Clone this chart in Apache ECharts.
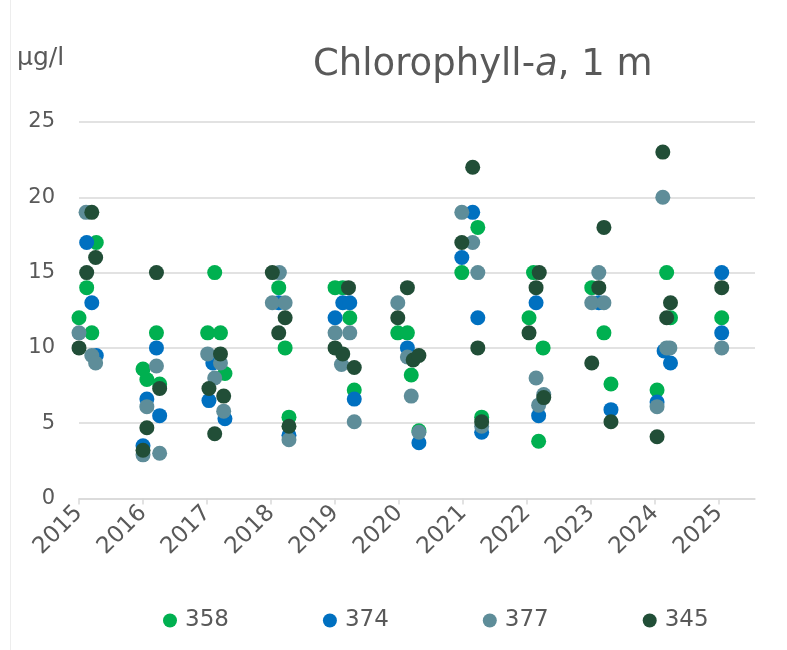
<!DOCTYPE html>
<html>
<head>
<meta charset="utf-8">
<title>Chlorophyll-a, 1 m</title>
<script src="https://cdn.jsdelivr.net/npm/echarts@6/dist/echarts.min.js"></script>
<style>
  html, body { margin: 0; padding: 0; background: #ffffff; }
  #chart { width: 787px; height: 650px; }
</style>
</head>
<body>
<div id="chart"></div>
<script>
// Sampling times as decimal years, with chlorophyll-a (µg/l) at 1 m depth per station
const yearTicks = [2015, 2016, 2017, 2018, 2019, 2020, 2021, 2022, 2023, 2024, 2025];

const dates358 = [2015.00, 2015.12, 2015.20, 2015.27, 2016.00, 2016.06, 2016.21, 2016.26,
  2017.01, 2017.12, 2017.21, 2017.28, 2018.12, 2018.22, 2018.28, 2019.00, 2019.12, 2019.23,
  2019.30, 2019.98, 2020.13, 2020.19, 2020.31, 2020.98, 2021.23, 2021.29, 2022.03, 2022.10,
  2022.18, 2022.25, 2023.01, 2023.20, 2023.31, 2024.03, 2024.18, 2024.24, 2025.04];
const vals358 = [12, 14, 11, 17, 8.6, 7.9, 11, 7.6,
  11, 15, 11, 8.3, 14, 10, 5.4, 14, 14, 12,
  7.2, 11, 11, 8.2, 4.5, 15, 18, 5.4, 12, 15,
  3.8, 10, 14, 11, 7.6, 7.2, 15, 12, 12];

const dates374 = [2015.12, 2015.20, 2015.27, 2016.00, 2016.06, 2016.21, 2016.26, 2017.03,
  2017.09, 2017.28, 2018.12, 2018.28, 2019.00, 2019.12, 2019.23, 2019.30, 2020.13, 2020.31,
  2020.98, 2021.15, 2021.23, 2021.29, 2022.14, 2022.18, 2023.12, 2023.31, 2024.03, 2024.14,
  2024.24, 2025.04, 2025.04];
const vals374 = [17, 13, 9.5, 3.5, 6.6, 10, 5.5, 6.5,
  9, 5.3, 13, 4.2, 12, 13, 13, 6.6, 10, 3.7,
  16, 19, 12, 4.4, 13, 5.5, 13, 5.9, 6.4, 9.8,
  9, 15, 11];

const dates377 = [2015.00, 2015.11, 2015.20, 2015.26, 2016.00, 2016.06, 2016.21, 2016.26,
  2017.01, 2017.12, 2017.21, 2017.26, 2018.02, 2018.13, 2018.22, 2018.28, 2019.00, 2019.10,
  2019.23, 2019.30, 2019.98, 2020.13, 2020.19, 2020.31, 2020.98, 2021.15, 2021.23, 2021.29,
  2022.14, 2022.18, 2022.26, 2023.01, 2023.12, 2023.20, 2024.03, 2024.12, 2024.18, 2024.23,
  2025.04];
const vals377 = [11, 19, 9.5, 9, 2.9, 6.1, 8.8, 3.0,
  9.6, 8, 9.0, 5.8, 13, 15, 13, 3.9, 11, 8.9,
  11, 5.1, 13, 9.4, 6.8, 4.4, 19, 17, 15, 4.8,
  8, 6.2, 6.9, 13, 15, 13, 6.1, 20, 10, 10,
  10];

const dates345 = [2015.00, 2015.12, 2015.20, 2015.26, 2016.00, 2016.06, 2016.21, 2016.26,
  2017.03, 2017.12, 2017.21, 2017.26, 2018.02, 2018.12, 2018.22, 2018.28, 2019.00, 2019.12,
  2019.21, 2019.30, 2019.98, 2020.13, 2020.22, 2020.31, 2020.98, 2021.15, 2021.23, 2021.29,
  2022.03, 2022.14, 2022.19, 2022.26, 2023.01, 2023.12, 2023.20, 2023.31, 2024.03, 2024.12,
  2024.18, 2024.24, 2025.04];
const vals345 = [10, 15, 19, 16, 3.2, 4.7, 15, 7.3,
  7.3, 4.3, 9.6, 6.8, 15, 11, 12, 4.8, 10, 9.6,
  14, 8.7, 12, 14, 9.2, 9.5, 17, 22, 10, 5.1,
  11, 14, 15, 6.7, 9, 14, 18, 5.1, 4.1, 23,
  12, 13, 14];

const stations = [
  { name: '358', dates: dates358, values: vals358, color: '#00B050' },
  { name: '374', dates: dates374, values: vals374, color: '#0070C0' },
  { name: '377', dates: dates377, values: vals377, color: '#5E8D99' },
  { name: '345', dates: dates345, values: vals345, color: '#214E37' }
];

const textColor = '#595959';
const gridColor = '#D9D9D9';
const font = 'DejaVu Sans';

const chart = echarts.init(document.getElementById('chart'), null, { renderer: 'canvas' });

chart.setOption({
  backgroundColor: '#ffffff',
  animation: false,
  title: {
    text: '{n|Chlorophyll-}{i|a}{n|, 1 m}',
    left: 308,
    top: 42,
    textStyle: {
      fontWeight: 'normal',
      rich: {
        n: { fontFamily: font, fontSize: 37, fontWeight: 'normal', color: textColor },
        i: { fontFamily: font, fontSize: 37, fontWeight: 'normal', color: textColor, fontStyle: 'italic' }
      }
    }
  },
  graphic: [
    {
      type: 'line',
      shape: { x1: 10.5, y1: 0, x2: 10.5, y2: 650 },
      style: { stroke: '#EDEDED', lineWidth: 1 },
      silent: true
    },
    {
      type: 'text',
      left: 17,
      top: 46,
      style: { text: 'µg/l', fontFamily: font, fontSize: 25, fill: textColor }
    }
  ],
  legend: {
    data: stations.map(s => s.name),
    left: 158,
    top: 604,
    icon: 'circle',
    itemWidth: 14,
    itemHeight: 14,
    itemGap: 94,
    textStyle: { fontFamily: font, fontSize: 23, color: textColor, padding: [0, 0, 0, 3] }
  },
  grid: {
    left: 79,
    right: 32,
    top: 122,
    bottom: 151.5,
    containLabel: false
  },
  xAxis: {
    type: 'value',
    min: 2015,
    max: 2025.56,
    axisLine: { show: true, lineStyle: { color: gridColor, width: 1.5 } },
    axisTick: { show: true, customValues: yearTicks, length: 6, lineStyle: { color: gridColor, width: 1.5 } },
    axisLabel: {
      customValues: yearTicks,
      rotate: 45,
      margin: 11,
      fontFamily: font,
      fontSize: 23,
      color: textColor,
      formatter: v => String(v)
    },
    splitLine: { show: false }
  },
  yAxis: {
    type: 'value',
    min: 0,
    max: 25,
    interval: 5,
    axisLine: { show: false },
    axisTick: { show: false },
    axisLabel: { fontFamily: font, fontSize: 21, color: textColor, margin: 24 },
    splitLine: { show: true, lineStyle: { color: gridColor, width: 1.5 } }
  },
  series: stations.map(s => ({
    name: s.name,
    type: 'scatter',
    symbol: 'circle',
    symbolSize: 15,
    clip: false,
    itemStyle: { color: s.color, opacity: 1 },
    data: s.dates.map((d, i) => [d, s.values[i]])
  }))
});
</script>
</body>
</html>
